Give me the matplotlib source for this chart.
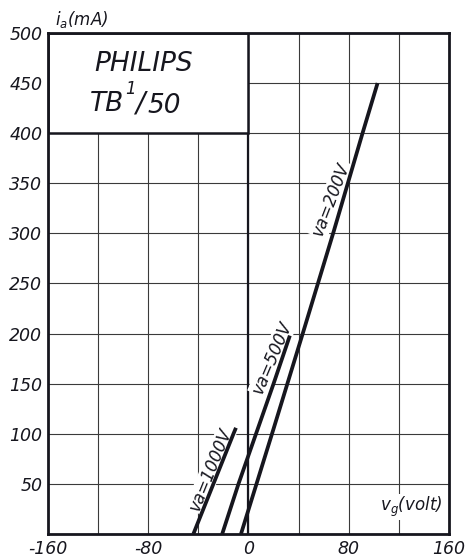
import matplotlib.pyplot as plt
from matplotlib.patches import Rectangle

# anode current curves (vg in volt, ia in mA)
vg_200 = [-6, 20, 44, 68, 91, 103]
ia_200 = [0, 105, 203, 302, 400, 450]
vg_500 = [-21, -8, 6, 20, 33]
ia_500 = [0, 50, 100, 150, 198]
vg_1000 = [-44, -28, -12, -10]
ia_1000 = [0, 50, 100, 106]

xticks = list(range(-160, 161, 40))
xlabels = ['-160', '', '-80', '', '0', '', '80', '', '160']
yticks = list(range(0, 501, 50))
ylabels = [''] + [str(v) for v in yticks[1:]]

ink = '#16161e'

fig = plt.figure(figsize=(4.65, 5.59), dpi=100)
ax = fig.add_axes([0.1032, 0.0447, 0.8624, 0.8963])
ax.set_xlim(-160, 160)
ax.set_ylim(0, 500)

ax.set_xticks(xticks)
ax.set_xticklabels(xlabels, fontsize=12.5, style='italic', color=ink)
ax.set_yticks(yticks)
ax.set_yticklabels(ylabels, fontsize=12.5, style='italic', color=ink)
ax.tick_params(length=0, pad=4)
ax.set_axisbelow(True)
ax.grid(True, color='#3a3a3a', lw=0.8)
for s in ax.spines.values():
    s.set_linewidth(2.0)
    s.set_color(ink)

# the thick ordinate at vg = 0
ax.axvline(0, color=ink, lw=1.6, zorder=1.5)

# title box top left
ax.add_patch(Rectangle((-160, 400), 160, 100, facecolor='white',
                       edgecolor=ink, lw=1.8, zorder=2))
big = dict(ha='center', va='center', style='italic', color=ink, zorder=3)
ax.text(-84, 469, 'PHILIPS', fontsize=19, **big)
ax.text(-113, 429, 'TB', fontsize=19, **big)
ax.text(-94, 444, '1', fontsize=12, **big)
ax.text(-87, 430, '/', fontsize=20, **big)
ax.text(-67, 427, '50', fontsize=19, **big)

# curves
for vg, ia in [(vg_200, ia_200), (vg_500, ia_500), (vg_1000, ia_1000)]:
    ax.plot(vg, ia, color=ink, lw=2.7, solid_capstyle='butt', zorder=4)

lab = dict(fontsize=12, style='italic', color=ink, ha='center', va='center',
           zorder=3, bbox=dict(facecolor='white', edgecolor='none', pad=1))
ax.text(-30, 64, 'va=1000V', rotation=68, **lab)
ax.text(19, 176, 'va=500V', rotation=67, **lab)
ax.text(66, 334, 'va=200V', rotation=69, **lab)

ax.text(130, 27, r'v$_g$(volt)', ha='center', va='center', fontsize=12,
        style='italic', color=ink, zorder=3,
        bbox=dict(facecolor='white', edgecolor='none', pad=0.5))
fig.text(0.118, 0.965, r'i$_a$(mA)', ha='left', va='center', fontsize=12,
         style='italic', color=ink)

fig.savefig('out.png', dpi=100)
